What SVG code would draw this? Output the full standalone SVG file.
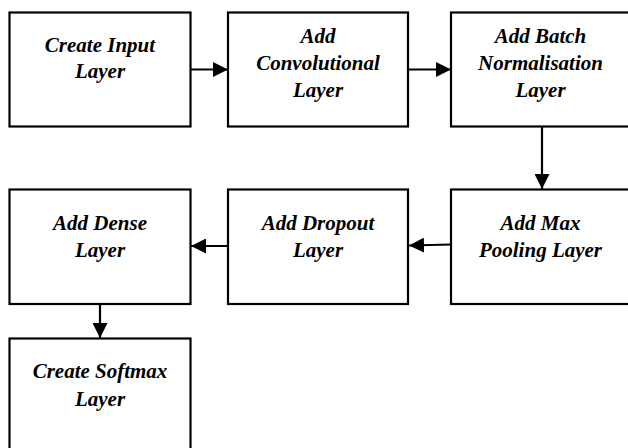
<svg xmlns="http://www.w3.org/2000/svg" width="628" height="448" viewBox="0 0 628 448">
<style>
.box{fill:#fff;stroke:#000;stroke-width:2.2}
.lbl{font-family:"Liberation Serif","Times New Roman",serif;font-weight:bold;font-style:italic;font-size:21px;fill:#000;text-anchor:middle}
.con{stroke:#000;stroke-width:2.2;fill:none}
</style>
<defs>
<marker id="ah" viewBox="0 0 15 15" refX="15" refY="7.5" markerWidth="15" markerHeight="15" markerUnits="userSpaceOnUse" orient="auto">
<path d="M0,0 L15,7.5 L0,15 Z" fill="#000"/>
</marker>
</defs>
<rect width="628" height="448" fill="#fff"/>
<g id="connectors">
<line class="con" x1="191" y1="69.5" x2="228" y2="69.5" marker-end="url(#ah)"/>
<line class="con" x1="408" y1="69.5" x2="451" y2="69.5" marker-end="url(#ah)"/>
<line class="con" x1="542" y1="127" x2="542" y2="189" marker-end="url(#ah)"/>
<line class="con" x1="451" y1="244.5" x2="409" y2="245.5" marker-end="url(#ah)"/>
<line class="con" x1="228" y1="246" x2="191" y2="246" marker-end="url(#ah)"/>
<line class="con" x1="100" y1="304" x2="100" y2="338" marker-end="url(#ah)"/>
</g>
<g id="n1">
<rect class="box" x="9.5" y="12.5" width="181" height="114"/>
<text class="lbl" x="100" y="52">Create Input</text>
<text class="lbl" x="100" y="78">Layer</text>
</g>
<g id="n2">
<rect class="box" x="228" y="12.5" width="180" height="114"/>
<text class="lbl" x="318" y="43">Add</text>
<text class="lbl" x="318" y="70">Convolutional</text>
<text class="lbl" x="318" y="97">Layer</text>
</g>
<g id="n3">
<rect class="box" x="451" y="12.5" width="182" height="114"/>
<text class="lbl" x="540.5" y="43">Add Batch</text>
<text class="lbl" x="540.5" y="70">Normalisation</text>
<text class="lbl" x="540.5" y="97">Layer</text>
</g>
<g id="n4">
<rect class="box" x="451" y="189.5" width="182" height="114.5"/>
<text class="lbl" x="540.5" y="230">Add Max</text>
<text class="lbl" x="540.5" y="256.5">Pooling Layer</text>
</g>
<g id="n5">
<rect class="box" x="228" y="189.5" width="180" height="114.5"/>
<text class="lbl" x="318" y="230">Add Dropout</text>
<text class="lbl" x="318" y="256.5">Layer</text>
</g>
<g id="n6">
<rect class="box" x="9.5" y="189.5" width="181" height="114.5"/>
<text class="lbl" x="100" y="230">Add Dense</text>
<text class="lbl" x="100" y="256.5">Layer</text>
</g>
<g id="n7">
<rect class="box" x="9.5" y="338.5" width="181" height="120"/>
<text class="lbl" x="100" y="378">Create Softmax</text>
<text class="lbl" x="100" y="406">Layer</text>
</g>
</svg>
